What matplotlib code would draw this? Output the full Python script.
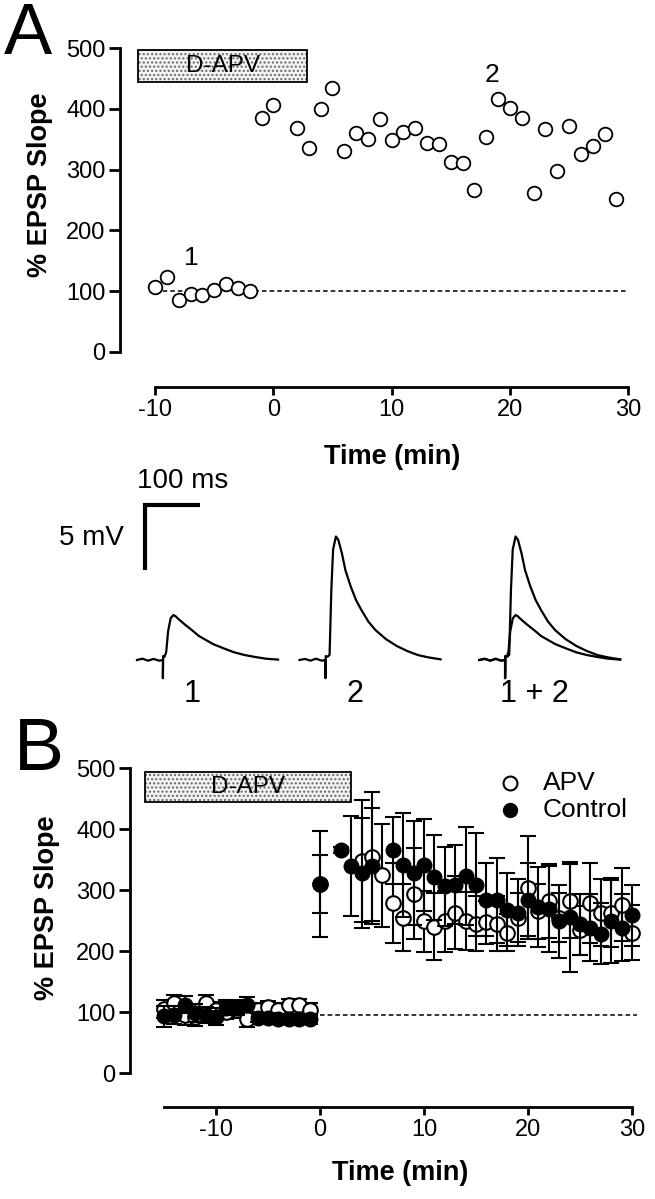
import matplotlib
matplotlib.use('Agg')
import matplotlib.pyplot as plt
from matplotlib.patches import Rectangle

plt.rcParams['font.family'] = ['Liberation Sans', 'DejaVu Sans']
plt.rcParams['axes.unicode_minus'] = False

W, H = 655, 1199

# ---------------- Panel A data ----------------
a_time = [-10, -9, -8, -7, -6, -5, -4, -3, -2, -1, 0, 2, 3, 4, 5, 6, 7, 8, 9, 10,
          11, 12, 13, 14, 15, 16, 17, 18, 19, 20, 21, 22, 23, 24, 25, 26, 27, 28, 29]
a_slope = [107, 124, 85, 95, 94, 102, 112, 106, 100, 385, 406, 368, 336, 399, 434, 331,
           361, 350, 383, 349, 362, 368, 344, 342, 313, 311, 266, 354, 416, 401, 385,
           261, 367, 297, 372, 326, 339, 358, 252]

# ---------------- EPSP traces (ms, mV) ----------------
trace1_ms = [0, 10, 20, 30, 40, 47, 47, 47.5, 50, 53, 56.4, 61, 66, 70.5, 73.7, 86.5,
             99.4, 112.2, 125, 137.8, 157, 176.3, 195.5, 214.7, 234, 256]
trace1_mv = [0, 0.1, -0.05, 0.08, -0.05, 0, -1.4, 0.3, 0.25, 0.6, 2.2, 3.2, 3.46, 3.35,
             3.21, 2.74, 2.31, 1.85, 1.54, 1.23, 0.9, 0.59, 0.38, 0.23, 0.1, 0.03]
trace2_ms = [0, 10, 20, 30, 40, 47, 47, 47.5, 51, 54.5, 57.7, 60.9, 66, 70.5, 76.9, 83.3,
             93, 102.6, 112.2, 125, 137.8, 157, 176.3, 195.5, 214.7, 234, 256]
trace2_mv = [0, 0.08, -0.05, 0.1, -0.05, 0, -1.4, 0.3, 0.25, 0.4, 5.4, 8.5, 9.5, 9.23,
             8.2, 6.9, 5.64, 4.6, 3.85, 2.95, 2.3, 1.6, 1.08, 0.69, 0.38, 0.2, 0.05]
trace_labels = ['1', '2', '1 + 2']

# ---------------- Panel B data ----------------
b_apv_t = [-15, -14, -13, -12, -11, -10, -9, -8, -7, -6, -5, -4, -3, -2, -1,
           0, 4, 5, 6, 7, 8, 9, 10, 11, 12, 13, 14, 15, 16, 17, 18, 19, 20, 21, 22,
           23, 24, 25, 26, 27, 28, 29, 30]
b_apv = [105, 114, 95, 92, 114, 104, 100, 103, 89, 104, 108, 104, 112, 112, 104,
         310, 348, 355, 324, 279, 255, 294, 249, 240, 249, 263, 249, 245, 247, 245,
         230, 255, 304, 265, 282, 255, 282, 234, 279, 263, 262, 276, 230]
b_apv_err = [15, 14, 16, 15, 14, 12, 12, 13, 14, 10, 10, 10, 10, 10, 10,
             48, 100, 105, 85, 65, 55, 75, 50, 55, 50, 60, 48, 45, 35, 45, 30, 40,
             85, 45, 60, 40, 60, 40, 65, 55, 55, 60, 45]
b_ctl_t = [-15, -14, -13, -12, -11, -10, -9, -8, -7, -6, -5, -4, -3, -2, -1,
           0, 2, 3, 4, 5, 7, 8, 9, 10, 11, 12, 13, 14, 15, 16, 17, 18, 19, 20, 21,
           22, 23, 24, 25, 26, 27, 28, 29, 30]
b_ctl = [93, 95, 112, 98, 95, 92, 107, 107, 112, 91, 91, 89, 88, 89, 89,
         310, 365, 340, 328, 340, 365, 341, 328, 341, 321, 306, 309, 323, 309, 284,
         283, 268, 263, 284, 272, 269, 249, 256, 244, 238, 228, 250, 238, 259]
b_ctl_err = [17, 15, 14, 15, 13, 14, 12, 12, 12, 8, 8, 8, 8, 8, 8,
             87, 5, 82, 90, 95, 55, 85, 85, 75, 70, 65, 65, 80, 85, 60, 70, 60, 55,
             60, 65, 70, 60, 90, 50, 55, 50, 70, 55, 50]

yticks = [0, 100, 200, 300, 400, 500]
xticks = [-10, 0, 10, 20, 30]

fig = plt.figure(figsize=(W / 100, H / 100), dpi=100)


def rect(l, t, r, b):
    return [l / W, 1 - b / H, (r - l) / W, (b - t) / H]


def style_axis(ax, xbounds):
    for s in ['top', 'right']:
        ax.spines[s].set_visible(False)
    ax.spines['left'].set_bounds(0, 500)
    ax.spines['bottom'].set_bounds(*xbounds)
    for s in ['left', 'bottom']:
        ax.spines[s].set_linewidth(2)
    ax.set_yticks(yticks)
    ax.set_xticks(xticks)
    ax.tick_params(axis='y', length=8, width=2, labelsize=17, pad=2.5)
    ax.tick_params(axis='x', length=6, width=2, labelsize=17, pad=3)


def drug_box(ax, x0, x1, y0, y1, label):
    ax.add_patch(Rectangle((x0, y0), x1 - x0, y1 - y0, facecolor='#f2f2f2',
                           edgecolor='#666666', hatch='....', linewidth=0, zorder=1))
    ax.add_patch(Rectangle((x0, y0), x1 - x0, y1 - y0, fill=False,
                           edgecolor='black', linewidth=1.3, zorder=2))
    ax.text((x0 + x1) / 2, (y0 + y1) / 2, label, ha='center', va='center',
            fontsize=17.5, zorder=3)


# ================= Panel A =================
axA = fig.add_axes(rect(120, 42, 633, 387))
axA.set_xlim(-12.96, 30.4)
axA.set_ylim(-57.6, 510)
style_axis(axA, (-10, 30))
axA.plot([-10, 30], [100, 100], color='black', lw=1.1, ls=(0, (3, 2)), zorder=2)
axA.plot(a_time, a_slope, 'o', ms=9.8, mfc='white', mec='black', mew=1.3, zorder=4)
drug_box(axA, -11.4, 2.86, 444, 497, 'D-APV')
axA.text(-6.9, 155, '1', fontsize=19, ha='center', va='center')
axA.text(18.5, 456, '2', fontsize=19, ha='center', va='center')
fig.text(392 / W, 1 - 457 / H, 'Time (min)', fontsize=19.5, fontweight='bold',
         ha='center', va='center')
fig.text(40 / W, 1 - 185 / H, '% EPSP Slope', fontsize=19.5, fontweight='bold',
         ha='center', va='center', rotation=90)
fig.text(28 / W, 1 - 35 / H, 'A', fontsize=52, ha='center', va='center')

# ================= Traces =================
axT = fig.add_axes(rect(60, 460, 640, 700))
axT.set_xlim((60 - 137) / 0.551, (640 - 137) / 0.551)
axT.set_ylim(-(700 - 660) / 13, (660 - 460) / 13)
axT.axis('off')
offsets = [0, 295, 621]
axT.plot([offsets[0] + t for t in trace1_ms], trace1_mv, color='black', lw=1.6)
axT.plot([offsets[1] + t for t in trace2_ms], trace2_mv, color='black', lw=1.6)
axT.plot([offsets[2] + t for t in trace1_ms], trace1_mv, color='black', lw=1.6)
axT.plot([offsets[2] + t for t in trace2_ms], trace2_mv, color='black', lw=1.6)
axT.plot([14, 14, 114], [6.9, 11.9, 11.9], color='black', lw=3, solid_capstyle='butt',
         solid_joinstyle='miter')
axT.text(0, 13.8, '100 ms', fontsize=20, ha='left', va='center')
axT.text(-24, 9.4, '5 mV', fontsize=20, ha='right', va='center')
for o, lab in zip(offsets, trace_labels):
    axT.text(o + 100, -2.6, lab, fontsize=22, ha='center', va='center', clip_on=False)

# ================= Panel B =================
axB = fig.add_axes(rect(130, 762, 648, 1107))
axB.set_xlim((130 - 320) / 10.4, (648 - 320) / 10.4)
axB.set_ylim(-(1107 - 1073) / 0.61, 510)
style_axis(axB, (-15, 30))
axB.plot([0, 30.5], [95, 95], color='black', lw=1.1, ls=(0, (3, 2)), zorder=2)
axB.errorbar(b_apv_t, b_apv, yerr=b_apv_err, fmt='o', ms=10.5, mfc='white', mec='black',
             mew=1.5, ecolor='black', elinewidth=1.5, capsize=5.5, capthick=1.5, zorder=4)
axB.errorbar(b_ctl_t, b_ctl, yerr=b_ctl_err, fmt='o', ms=10.5, mfc='black', mec='black',
             ecolor='black', elinewidth=1.5, capsize=5.5, capthick=1.5, zorder=5)
drug_box(axB, -16.8, 2.97, 444, 493, 'D-APV')
axB.plot([18.3], [475], 'o', ms=10, mfc='white', mec='black', mew=1.5)
axB.plot([18.3], [431], 'o', ms=10, mfc='black', mec='black')
axB.text(21.4, 475, 'APV', fontsize=19, ha='left', va='center')
axB.text(21.4, 431, 'Control', fontsize=19, ha='left', va='center')
fig.text(400 / W, 1 - 1173 / H, 'Time (min)', fontsize=19.5, fontweight='bold',
         ha='center', va='center')
fig.text(47 / W, 1 - 908 / H, '% EPSP Slope', fontsize=19.5, fontweight='bold',
         ha='center', va='center', rotation=90)
fig.text(39 / W, 1 - 750 / H, 'B', fontsize=54, ha='center', va='center')

fig.savefig('out.png', dpi=100)
